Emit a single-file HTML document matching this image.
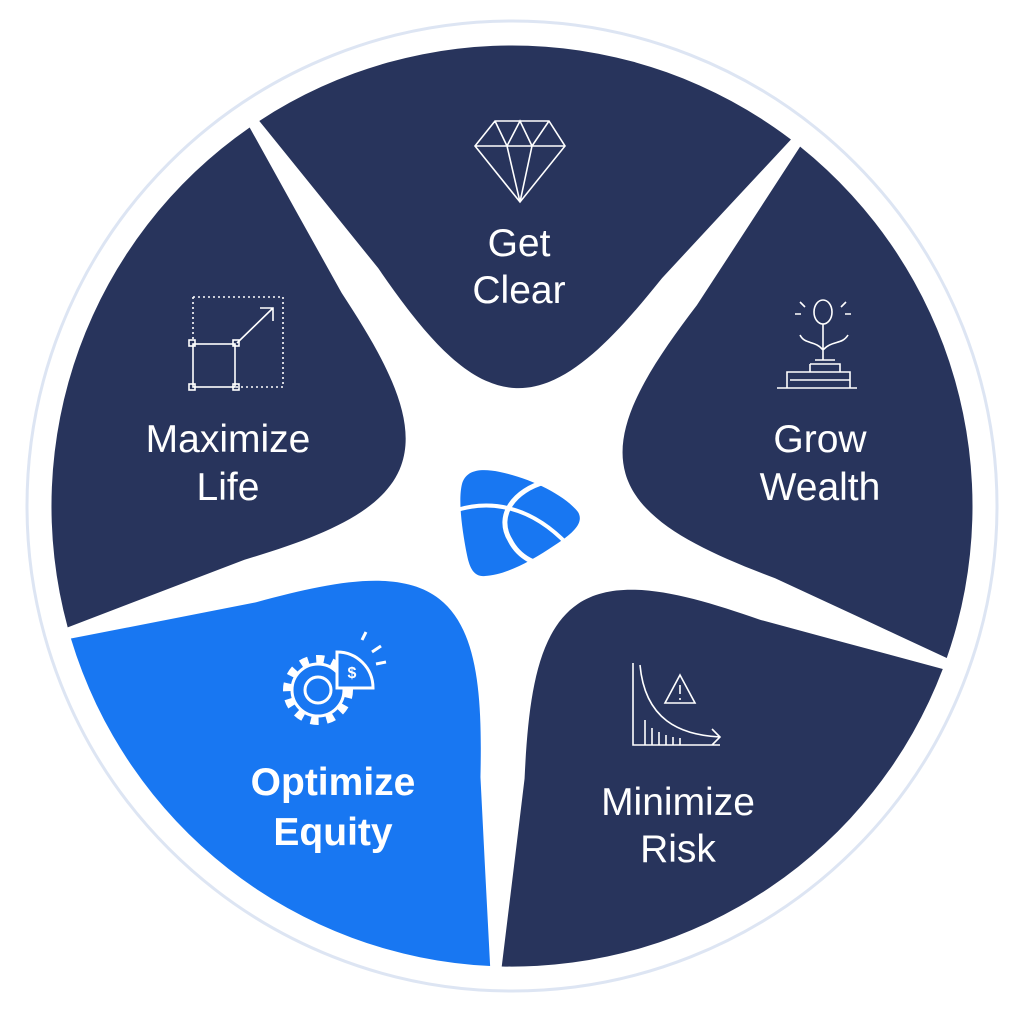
<!DOCTYPE html>
<html><head><style>
html,body{margin:0;padding:0;background:#fff;width:1024px;height:1011px;overflow:hidden}
svg{display:block}
text{font-family:"Liberation Sans",sans-serif;fill:#fff;font-size:39px;text-anchor:middle}
</style></head><body>
<svg width="1024" height="1011" viewBox="0 0 1024 1011">
<circle cx="512" cy="506" r="485" fill="none" stroke="#dde5f3" stroke-width="3"/>
<defs>
<path id="w" d="M -266,-376 A 461 461 0 0 1 266,-376 L 200,-300 L 142,-233 C 95,-170 50,-118 0,-118 C -50,-118 -95,-170 -142,-233 L -200,-300 Z"/>
</defs>
<g transform="translate(512,506)">
<use href="#w" fill="#28345c" transform="rotate(2)"/>
<use href="#w" fill="#28345c" transform="rotate(74)"/>
<use href="#w" fill="#28345c" transform="rotate(146)"/>
<use href="#w" fill="#1877f2" transform="rotate(218)"/>
<use href="#w" fill="#28345c" transform="rotate(290)"/>
</g>
<!-- logo -->
<g>
<path d="M462,484 C466,470 480,468 500,472 C530,478 565,495 578,512 C584,522 575,532 555,545 C530,562 505,575 485,576 C475,577 470,570 467,555 C462,530 458,500 462,484 Z" fill="#1877f2"/>
<path d="M457,510 C490,500 530,505 568,545" fill="none" stroke="#fff" stroke-width="4"/>
<path d="M545,482 C515,490 495,515 510,540 C520,560 540,565 545,565" fill="none" stroke="#fff" stroke-width="5"/>
</g>
<!-- diamond -->
<g fill="none" stroke="#fff" stroke-width="1.6">
<path d="M495,121 L549,121 L565,146 L520,202 L475,146 Z M475,146 L565,146 M495,121 L507,146 L520,121 L532,146 L549,121 M507,146 L520,202 L532,146"/>
</g>
<!-- maximize -->
<g fill="none" stroke="#fff" stroke-width="1.6">
<path d="M193,297 L283,297 L283,387 L236,387" stroke-dasharray="2,3"/>
<path d="M193,297 L193,342" stroke-dasharray="2,3"/>
<rect x="193" y="344" width="42" height="43"/>
<path d="M237,343 L273,308 M260,308 L273,308 L273,321"/>
<rect x="189" y="340" width="6" height="6"/><rect x="233" y="340" width="6" height="6"/><rect x="189" y="384" width="6" height="6"/><rect x="233" y="384" width="6" height="6"/>
</g>
<!-- plant -->
<g fill="none" stroke="#fff" stroke-width="1.6">
<ellipse cx="823" cy="312" rx="9" ry="12"/>
<path d="M823,324 L823,360 M823,350 C815,340 805,345 800,335 M823,350 C832,340 842,345 848,335 M800,302 L805,307 M846,302 L841,307 M795,314 L801,314 M845,314 L851,314"/>
<path d="M777,388 L857,388 M787,388 L787,372 L850,372 L850,388 M790,380 L850,380 M810,364 L840,364 L840,372 M810,372 L810,364 M815,360 L835,360"/>
</g>
<!-- risk -->
<g fill="none" stroke="#fff" stroke-width="1.6">
<path d="M633,663 L633,745 L720,745 M640,665 C645,720 680,735 720,737 M712,729 L720,737 L712,745"/>
<path d="M645,720 L645,745 M652,728 L652,745 M659,732 L659,745 M666,735 L666,745 M673,737 L673,745 M680,738 L680,745"/>
<path d="M680,675 L695,703 L665,703 Z M680,685 L680,694 M680,698 L680,700"/>
</g>
<!-- gear -->
<g fill="none" stroke="#fff" stroke-width="3">
<circle cx="318" cy="690" r="31" stroke-width="8" stroke-dasharray="8,8"/>
<circle cx="318" cy="690" r="26"/>
<circle cx="318" cy="690" r="13"/>
<path d="M337,652 L337,688 L373,688 C373,668 357,652 337,652 Z" fill="#1877f2"/>
<path d="M362,640 L366,632 M372,652 L381,646 M376,664 L386,662"/>
</g>
<text x="352" y="678" style="font-size:16px;font-weight:bold">$</text>
<text x="519" y="256">Get</text><text x="519" y="303">Clear</text>
<text x="228" y="452">Maximize</text><text x="228" y="500">Life</text>
<text x="820" y="452">Grow</text><text x="820" y="500">Wealth</text>
<text x="678" y="815">Minimize</text><text x="678" y="862">Risk</text>
<text x="333" y="795" font-weight="bold">Optimize</text><text x="333" y="845" font-weight="bold">Equity</text>
</svg>
</body></html>
